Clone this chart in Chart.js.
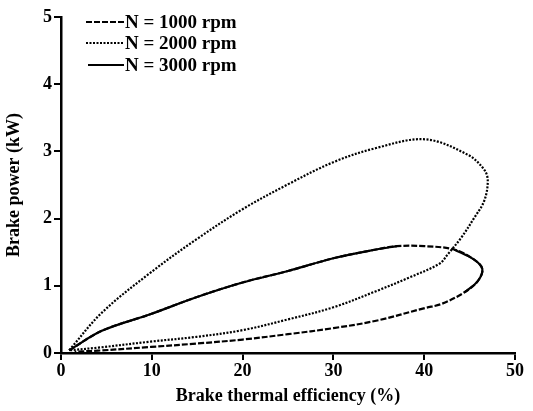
<!DOCTYPE html>
<html>
<head>
<meta charset="utf-8">
<script src="https://cdn.jsdelivr.net/npm/chart.js@4"></script>
<style>
  html, body { margin: 0; padding: 0; background: #fff; }
  #wrap { width: 533px; height: 411px; }
</style>
</head>
<body>
<div id="wrap"><canvas id="bp"></canvas></div>
<script>
// values (x = brake thermal efficiency %, y = brake power kW)
labels = ['N = 1000 rpm', 'N = 2000 rpm', 'N = 3000 rpm'];

bte1000 = [0.9, 4.5, 9.9, 14.9, 20, 25, 30, 34.7, 37, 40, 43.3, 45.5, 46.4, 45.9, 44.4, 41.9, 40.1, 34.7, 30, 25, 20, 14.9, 9.9, 4.1, 1.5];
bp1000  = [0.04, 0.33, 0.58, 0.83, 1.05, 1.22, 1.41, 1.54, 1.59, 1.59, 1.54, 1.39, 1.25, 1.07, 0.90, 0.73, 0.67, 0.48, 0.37, 0.28, 0.20, 0.14, 0.09, 0.035, 0.02];

bte2000 = [0.9, 4.5, 9.9, 14.9, 20, 25, 30, 34.7, 40.1, 44.8, 46.6, 47, 46.6, 45.5, 44.1, 42.6, 41.7, 38.3, 34.7, 30, 25, 20, 14.9, 9.9, 4.1, 0.9];
bp2000  = [0.04, 0.60, 1.20, 1.69, 2.14, 2.51, 2.84, 3.05, 3.18, 2.95, 2.73, 2.56, 2.26, 2.01, 1.72, 1.47, 1.33, 1.12, 0.92, 0.68, 0.50, 0.34, 0.24, 0.17, 0.08, 0.04];

// 3000 rpm lies on the 1000 rpm loop except round the top
bte3000 = [0.9, 4.5, 9.9, 14.9, 20, 25, 30, 34.7, 37, 42, 43.3, 45.5, 46.4, 45.9, 44.4];
bp3000  = [0.04, 0.33, 0.58, 0.83, 1.05, 1.22, 1.41, 1.54, 1.59, null, 1.54, 1.39, 1.25, 1.07, 0.90];

xTicks = [0, 10, 20, 30, 40, 50];
yTicks = [0, 1, 2, 3, 4, 5];

function pts(xs, ys) {
  return xs.map((v, i) => ({ x: v, y: ys[i] }));
}

serif = '"Liberation Serif", "Times New Roman", serif';

legendInside = {
  id: 'legendInside',
  afterDraw(chart) {
    const c = chart.ctx;
    const rows = [22, 43, 65];
    c.save();
    chart.data.datasets.forEach((ds, i) => {
      const y = rows[i];
      c.beginPath();
      c.setLineDash(ds.borderDash || []);
      c.lineWidth = ds.borderWidth;
      c.strokeStyle = '#000';
      c.moveTo(i == 2 ? 88 : 86, y);
      c.lineTo(124, y);
      c.stroke();
      c.setLineDash([]);
      c.fillStyle = '#000';
      c.font = 'bold 19px ' + serif;
      c.textAlign = 'left';
      c.textBaseline = 'middle';
      c.fillText(ds.label, 125, y + 1);
    });
    c.restore();
  }
};

ctx = document.getElementById('bp');

chart = new Chart(ctx, {
  type: 'scatter',
  data: {
    datasets: [
      { label: labels[0], data: pts(bte1000, bp1000), borderDash: [6, 2] },
      { label: labels[1], data: pts(bte2000, bp2000), borderDash: [2, 1.5] },
      { label: labels[2], data: pts(bte3000, bp3000), borderDash: [] }
    ].map(d => Object.assign(d, {
      showLine: true, tension: 0.35, borderColor: '#000', borderWidth: 2.2,
      pointRadius: 0, fill: false, spanGaps: false
    }))
  },
  options: {
    responsive: true,
    maintainAspectRatio: false,
    animation: false,
    layout: { padding: { top: 17, right: 18, left: 0, bottom: 0 } },
    plugins: { legend: { display: false }, tooltip: { enabled: false } },
    scales: {
      x: {
        type: 'linear', min: 0, max: 50,
        afterBuildTicks: s => { s.ticks = xTicks.map(v => ({ value: v })); },
        afterFit: s => { s.height = 58; },
        grid: { drawOnChartArea: false, drawTicks: true, tickLength: 7, color: '#000', lineWidth: 2 },
        border: { color: '#000', width: 2.5 },
        ticks: { color: '#000', font: { family: serif, size: 18, weight: 'bold' }, padding: 1, maxRotation: 0 },
        title: { display: true, text: 'Brake thermal efficiency (%)', color: '#000',
                 font: { family: serif, size: 18, weight: 'bold' }, padding: { top: 0 } }
      },
      y: {
        type: 'linear', min: 0, max: 5,
        afterBuildTicks: s => { s.ticks = yTicks.map(v => ({ value: v })); },
        afterFit: s => { s.width = 61; },
        grid: { drawOnChartArea: false, drawTicks: true, tickLength: 7, color: '#000', lineWidth: 2 },
        border: { color: '#000', width: 2.5 },
        ticks: { color: '#000', font: { family: serif, size: 18, weight: 'bold' }, padding: 2 },
        title: { display: true, text: 'Brake power (kW)', color: '#000',
                 font: { family: serif, size: 18, weight: 'bold' }, padding: { bottom: 1 } }
      }
    }
  },
  plugins: [legendInside]
});
</script>
</body>
</html>
